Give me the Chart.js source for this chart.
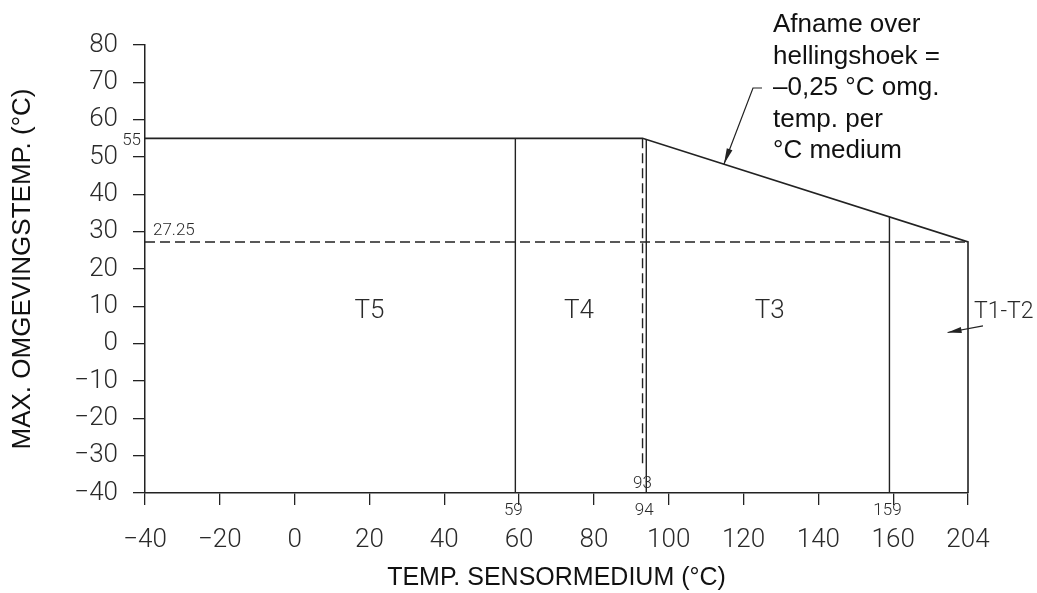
<!DOCTYPE html>
<html>
<head>
<meta charset="utf-8">
<title>Temperatuurklassen</title>
<script src="https://cdn.jsdelivr.net/npm/chart.js@4.4.1/dist/chart.umd.min.js"></script>
<style>
  html, body { margin: 0; padding: 0; background: #fff; }
</style>
</head>
<body>
<canvas id="klassen" width="1037" height="593"></canvas>
<script>
// temperatuurklassen: grenzen op de mediumtemperatuur (°C)
const klasseGrenzen = [59, 94, 159];
const klasseGrensTop = [55, 54.75, 34];
const klasseNamen = ['T5', 'T4', 'T3'];

// omhullende: max. omgevingstemperatuur tegen mediumtemperatuur
const omhullendeX = [-40, 93, 204, 204];
const omhullendeY = [55, 55, 27.25, -40];

// hulplijnen (gestippeld)
const kniepuntX = 93;
const kniepuntOnder = -33;
const eindwaardeY = 27.25;

const xTickWaarden = [-40, -20, 0, 20, 40, 60, 80, 100, 120, 140, 160, 204];
const yMin = -40, yMax = 80, yStap = 10;

const lijnKleur = '#222';
const tekstKleur = '#2a2a2a';
const cadFont = "Roboto, 'DejaVu Sans', sans-serif";
const tekstFont = "'Liberation Sans', Arial, sans-serif";

// de x-as is tussen 160 en 204 ingekort tot de breedte van 20 graden
const asKnik = 160, asEind = 204, knikBreedte = 20;
function inkorten(v) {
    return v <= asKnik ? v : asKnik + (v - asKnik) * knikBreedte / (asEind - asKnik);
}
function uitrekken(v) {
    return v <= asKnik ? v : asKnik + (v - asKnik) * (asEind - asKnik) / knikBreedte;
}

class GeknikteAs extends Chart.LinearScale {
    getPixelForValue(value) {
        if (value === null || value === undefined || isNaN(value)) return NaN;
        const a = inkorten(this.min), b = inkorten(this.max);
        return this.getPixelForDecimal((inkorten(value) - a) / (b - a));
    }
    getValueForPixel(pixel) {
        const a = inkorten(this.min), b = inkorten(this.max);
        return uitrekken(a + this.getDecimalForPixel(pixel) * (b - a));
    }
}
GeknikteAs.id = 'geknikt';
GeknikteAs.defaults = Chart.LinearScale.defaults;
Chart.register(GeknikteAs);

function punten(xs, ys) {
    return xs.map((x, i) => ({ x: x, y: ys[i] }));
}

// negatieve getallen met een echt minteken
const getal = (v) => String(v).replace('-', '\u2212');

function pijlpunt(ctx, x0, y0, x1, y1, lengte, breedte) {
    const hoek = Math.atan2(y1 - y0, x1 - x0);
    ctx.beginPath();
    ctx.moveTo(x1, y1);
    ctx.lineTo(x1 - lengte * Math.cos(hoek) + breedte / 2 * Math.sin(hoek),
               y1 - lengte * Math.sin(hoek) - breedte / 2 * Math.cos(hoek));
    ctx.lineTo(x1 - lengte * Math.cos(hoek) - breedte / 2 * Math.sin(hoek),
               y1 - lengte * Math.sin(hoek) + breedte / 2 * Math.cos(hoek));
    ctx.closePath();
    ctx.fill();
}

// teksten, maatgetallen en pijlen
const annotaties = {
    id: 'annotaties',
    afterDatasetsDraw(chart) {
        const { ctx, chartArea, scales: { x, y } } = chart;
        ctx.save();
        ctx.fillStyle = tekstKleur;
        ctx.strokeStyle = lijnKleur;

        // klassenamen
        ctx.font = '300 26px ' + cadFont;
        ctx.textAlign = 'center';
        ctx.textBaseline = 'middle';
        const naamX = [20, 76, 127];
        const naamY = y.getPixelForValue(8.5);
        klasseNamen.forEach((naam, i) => {
            ctx.fillText(naam, x.getPixelForValue(naamX[i]), naamY);
        });

        // T1-T2 buiten het kader met pijl naar binnen
        ctx.font = '300 23px ' + cadFont;
        ctx.textAlign = 'left';
        ctx.fillText('T1-T2', chartArea.right + 6, naamY);
        ctx.lineWidth = 1.2;
        const p0 = { x: chartArea.right + 15, y: naamY + 14 };
        const p1 = { x: x.getPixelForValue(192), y: y.getPixelForValue(3) };
        ctx.beginPath();
        ctx.moveTo(p0.x, p0.y);
        ctx.lineTo(p1.x, p1.y);
        ctx.stroke();
        ctx.fillStyle = lijnKleur;
        pijlpunt(ctx, p0.x, p0.y, p1.x, p1.y, 14, 6);
        ctx.fillStyle = tekstKleur;

        // maatgetallen
        ctx.font = '300 17px ' + cadFont;
        ctx.textAlign = 'right';
        ctx.textBaseline = 'middle';
        ctx.fillText('55', chartArea.left - 4, y.getPixelForValue(omhullendeY[1]) + 2);
        ctx.textAlign = 'left';
        ctx.textBaseline = 'bottom';
        ctx.fillText(String(eindwaardeY), chartArea.left + 8, y.getPixelForValue(eindwaardeY) - 3);
        ctx.textAlign = 'center';
        ctx.fillText(String(kniepuntX), x.getPixelForValue(kniepuntX), chartArea.bottom - 1);
        ctx.textBaseline = 'top';
        klasseGrenzen.forEach((g) => {
            ctx.fillText(String(g), x.getPixelForValue(g) - 2, chartArea.bottom + 9);
        });

        // toelichting bij de helling
        ctx.font = '26px ' + tekstFont;
        ctx.fillStyle = '#111';
        ctx.textAlign = 'left';
        ctx.textBaseline = 'alphabetic';
        const regels = ['Afname over', 'hellingshoek =', '\u20130,25 \u00b0C omg.', 'temp. per', '\u00b0C medium'];
        const tx = chartArea.right - 195;
        regels.forEach((r, i) => ctx.fillText(r, tx, chartArea.top - 13 + i * 31.5));

        // aanwijslijn naar de helling
        const a = { x: x.getPixelForValue(omhullendeX[1]), y: y.getPixelForValue(omhullendeY[1]) };
        const b = { x: x.getPixelForValue(omhullendeX[2]), y: y.getPixelForValue(omhullendeY[2]) };
        const tip = { x: a.x + (b.x - a.x) * 0.25, y: a.y + (b.y - a.y) * 0.25 };
        const knik = { x: tx - 20, y: chartArea.top + 43 };
        ctx.lineWidth = 1.2;
        ctx.beginPath();
        ctx.moveTo(tx - 11, knik.y);
        ctx.lineTo(knik.x, knik.y);
        ctx.lineTo(tip.x, tip.y);
        ctx.stroke();
        ctx.fillStyle = lijnKleur;
        pijlpunt(ctx, knik.x, knik.y, tip.x, tip.y, 16, 6);
        ctx.restore();
    }
};

const lijn = (data, extra) => Object.assign({
    data: data,
    borderColor: lijnKleur,
    borderWidth: 1.4,
    pointRadius: 0,
    tension: 0,
    clip: false
}, extra || {});

new Chart(document.getElementById('klassen').getContext('2d'), {
    type: 'line',
    data: {
        datasets: [
            lijn(punten(omhullendeX, omhullendeY), { borderWidth: 1.6 }),
            ...klasseGrenzen.map((g, i) => lijn([{ x: g, y: yMin }, { x: g, y: klasseGrensTop[i] }])),
            lijn([{ x: kniepuntX, y: omhullendeY[1] }, { x: kniepuntX, y: kniepuntOnder }], { borderDash: [10, 5] }),
            lijn([{ x: omhullendeX[0], y: eindwaardeY }, { x: asEind, y: eindwaardeY }], { borderDash: [10, 5] })
        ]
    },
    options: {
        responsive: false,
        animation: false,
        layout: { padding: { left: 7, right: 69, top: 45, bottom: 0 } },
        plugins: {
            legend: { display: false },
            tooltip: { enabled: false }
        },
        scales: {
            x: {
                type: 'geknikt',
                min: -40,
                max: asEind,
                afterBuildTicks: (as) => { as.ticks = xTickWaarden.map((v) => ({ value: v })); },
                afterFit: (as) => { as.height = 100; },
                ticks: {
                    autoSkip: false,
                    maxRotation: 0,
                    padding: 20,
                    color: tekstKleur,
                    font: { family: cadFont, size: 26, weight: '300' },
                    callback: getal
                },
                grid: { drawOnChartArea: false, tickLength: 12, color: lijnKleur, lineWidth: 1.3 },
                border: { color: lijnKleur, width: 1.5 },
                title: {
                    display: true,
                    text: 'TEMP. SENSORMEDIUM (\u00b0C)',
                    color: '#111',
                    font: { family: tekstFont, size: 25 },
                    padding: { top: 9, bottom: 0 }
                }
            },
            y: {
                min: yMin,
                max: yMax,
                afterFit: (as) => { as.width = 138; },
                ticks: {
                    stepSize: yStap,
                    padding: 15,
                    color: tekstKleur,
                    font: { family: cadFont, size: 26, weight: '300' },
                    callback: getal
                },
                grid: { drawOnChartArea: false, tickLength: 12, color: lijnKleur, lineWidth: 1.3 },
                border: { color: lijnKleur, width: 1.5 },
                title: {
                    display: true,
                    text: 'MAX. OMGEVINGSTEMP. (\u00b0C)',
                    color: '#111',
                    font: { family: tekstFont, size: 26 },
                    padding: { top: 0, bottom: 20 }
                }
            }
        }
    },
    plugins: [annotaties]
});
</script>
</body>
</html>
